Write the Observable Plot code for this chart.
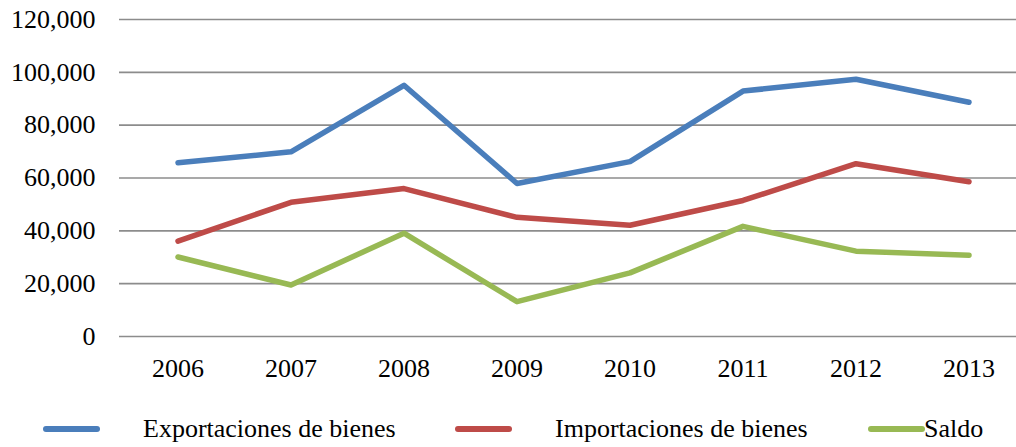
<!DOCTYPE html>
<html>
<head>
<meta charset="utf-8">
<script src="https://cdn.jsdelivr.net/npm/d3@7"></script>
<script src="https://cdn.jsdelivr.net/npm/@observablehq/plot@0.6"></script>
<style>
  html, body { margin: 0; padding: 0; background: #fff; }
  #wrap { width: 1016px; height: 447px; position: relative; font-family: "Liberation Serif", "Times New Roman", serif; }
  #wrap svg text { font-family: "Liberation Serif", "Times New Roman", serif !important; }
  #legend { position: absolute; left: 0; top: 405px; width: 1016px; height: 47px; font-size: 26px; color: #000; }
  .item { position: absolute; top: 0; height: 47px; display: flex; align-items: center; }
  .sw { width: 57px; height: 6px; border-radius: 3px; }
  .lab { white-space: nowrap; }
</style>
</head>
<body>
<div id="wrap"></div>
<script>
const years = ["2006", "2007", "2008", "2009", "2010", "2011", "2012", "2013"];
const exportaciones = [65800, 69900, 95100, 57900, 66200, 92900, 97400, 88700];
const importaciones = [36100, 50800, 56000, 45100, 42100, 51500, 65400, 58600];
const saldo = [30100, 19500, 39100, 13200, 24100, 41700, 32300, 30800];
const seriesNames = ["Exportaciones de bienes", "Importaciones de bienes", "Saldo"];
const seriesColors = ["#4A7EBB", "#BE4B48", "#98B954"];
const yTicks = [0, 20000, 40000, 60000, 80000, 100000, 120000];

const seriesValues = [exportaciones, importaciones, saldo];
const data = [];
seriesNames.forEach((name, i) => {
  years.forEach((yr, j) => data.push({ year: yr, value: seriesValues[i][j], series: name }));
});

const fmt = d3.format(",");

const chart = Plot.plot({
  width: 1016,
  height: 400,
  marginLeft: 119,
  marginRight: -11,
  marginTop: 19,
  marginBottom: 64,
  style: { fontFamily: "'Liberation Serif', 'Times New Roman', serif", fontSize: "26px", color: "#000", background: "#fff" },
  x: { type: "band", domain: years, padding: 0, label: null },
  y: { domain: [0, 120000], label: null },
  color: { domain: seriesNames, range: seriesColors },
  marks: [
    Plot.ruleY(yTicks, { stroke: "#8c8c8c", strokeWidth: 1.6 }),
    Plot.axisY({ ticks: yTicks, tickFormat: fmt, tickSize: 0, tickPadding: 24, label: null, fontSize: 26 }),
    Plot.axisX({ tickSize: 0, tickPadding: 22, label: null, fontSize: 26 }),
    Plot.line(data, { x: "year", y: "value", z: "series", stroke: "series", strokeWidth: 5.5, strokeLinejoin: "round", strokeLinecap: "round" })
  ]
});

const wrap = document.getElementById("wrap");
wrap.appendChild(chart);

const legend = document.createElement("div");
legend.id = "legend";
const swX = [43, 455, 868];
const labX = [143, 555, 924];
seriesNames.forEach((name, i) => {
  const sw = document.createElement("div");
  sw.className = "item";
  sw.style.left = swX[i] + "px";
  sw.innerHTML = `<div class="sw" style="background:${seriesColors[i]}"></div>`;
  legend.appendChild(sw);
  const lab = document.createElement("div");
  lab.className = "item";
  lab.style.left = labX[i] + "px";
  lab.innerHTML = `<span class="lab">${name}</span>`;
  legend.appendChild(lab);
});
wrap.appendChild(legend);
</script>
</body>
</html>
